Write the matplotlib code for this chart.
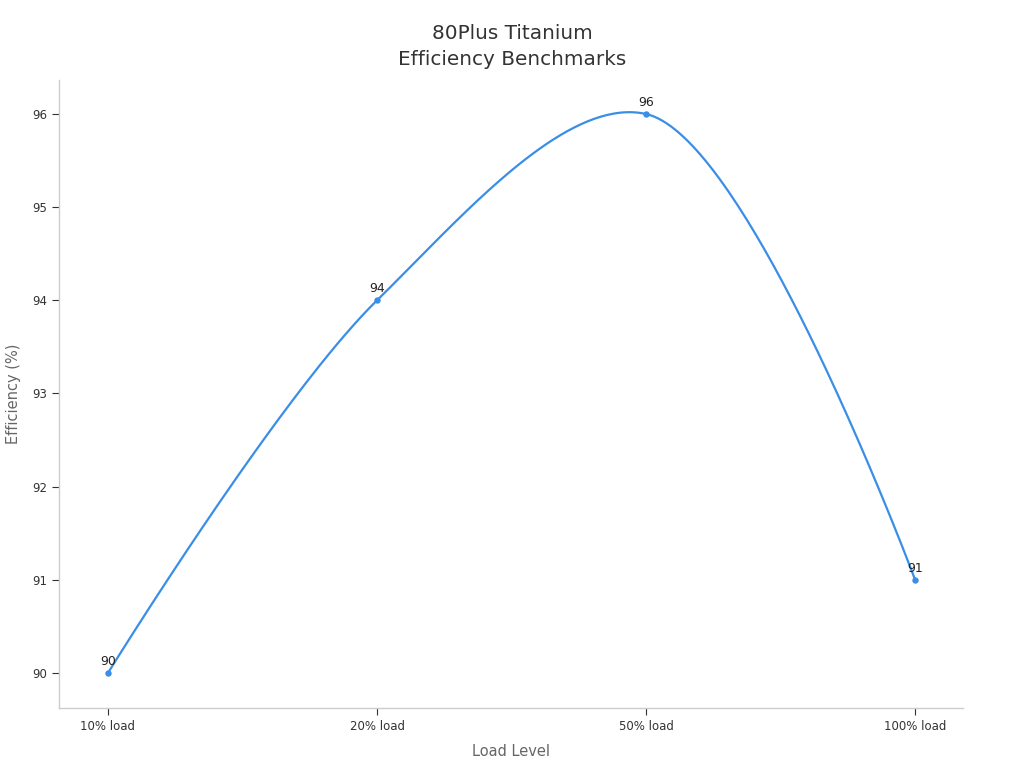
import numpy as np
import matplotlib
matplotlib.use("Agg")
import matplotlib.pyplot as plt

categories = ["10% load", "20% load", "50% load", "100% load"]
efficiency = [90, 94, 96, 91]
yticks = [90, 91, 92, 93, 94, 95, 96]


def catmull_rom_display(P, alpha=0.5, n=80):
    """Centripetal Catmull-Rom (d3.curveCatmullRom) in display coords."""
    P = np.asarray(P, dtype=float)
    k = len(P)
    eps = 1e-12
    out = [P[:1]]
    for i in range(k - 1):
        p1, p2 = P[i], P[i + 1]
        p0 = P[i - 1] if i > 0 else None
        p3 = P[i + 2] if i + 2 < k else None
        l12_2a = np.sum((p2 - p1) ** 2) ** alpha
        l12_a = np.sqrt(l12_2a)
        c1 = p1.copy()
        c2 = p2.copy()
        if p0 is not None:
            l01_2a = np.sum((p1 - p0) ** 2) ** alpha
            l01_a = np.sqrt(l01_2a)
            if l01_a > eps:
                a = 2 * l01_2a + 3 * l01_a * l12_a + l12_2a
                nn = 3 * l01_a * (l01_a + l12_a)
                c1 = (p1 * a - p0 * l12_2a + p2 * l01_2a) / nn
        if p3 is not None:
            l23_2a = np.sum((p3 - p2) ** 2) ** alpha
            l23_a = np.sqrt(l23_2a)
            if l23_a > eps:
                b = 2 * l23_2a + 3 * l23_a * l12_a + l12_2a
                m = 3 * l23_a * (l23_a + l12_a)
                c2 = (p2 * b + p1 * l23_2a - p3 * l12_2a) / m
        t = np.linspace(0, 1, n)[1:, None]
        seg = ((1 - t) ** 3 * p1 + 3 * (1 - t) ** 2 * t * c1
               + 3 * (1 - t) * t ** 2 * c2 + t ** 3 * p2)
        out.append(seg)
    return np.vstack(out)


color = "#3a8ee6"
fig = plt.figure(figsize=(10.24, 7.68), dpi=100)
ax = fig.add_axes([59 / 1024, 1 - 708 / 768, 904 / 1024, 628 / 768])
ax.set_xlim(-0.182, 3.178)
ax.set_ylim(89.624, 96.365)

x = np.arange(len(categories))
pts_disp = ax.transData.transform(np.column_stack([x, efficiency]))
curve_disp = catmull_rom_display(pts_disp)
curve = ax.transData.inverted().transform(curve_disp)
ax.plot(curve[:, 0], curve[:, 1], color=color, lw=1.6, zorder=2)
ax.plot(x, efficiency, "o", color=color, ms=3.6, zorder=3)
for xi, v in zip(x, efficiency):
    ax.annotate(str(v), (xi, v), xytext=(0, 3.5), textcoords="offset points",
                ha="center", va="bottom", fontsize=9, color="#222222")

ax.set_xticks(x)
ax.set_xticklabels(categories)
ax.set_yticks(yticks)
ax.tick_params(axis="both", labelsize=8.5, colors="#333333", length=5, width=0.8)
ax.tick_params(axis="x", pad=4)
for s in ["top", "right"]:
    ax.spines[s].set_visible(False)
for s in ["left", "bottom"]:
    ax.spines[s].set_color("#cccccc")
    ax.spines[s].set_linewidth(1)

ax.set_xlabel("Load Level", fontsize=10.5, color="#666666", labelpad=7.5)
ax.set_ylabel("Efficiency (%)", fontsize=10.5, color="#666666", labelpad=8)
fig.suptitle("80Plus Titanium\nEfficiency Benchmarks", fontsize=14.4, color="#333333",
             y=1 - 24 / 768, va="top", linespacing=1.45)

fig.savefig("out.png", dpi=100)
